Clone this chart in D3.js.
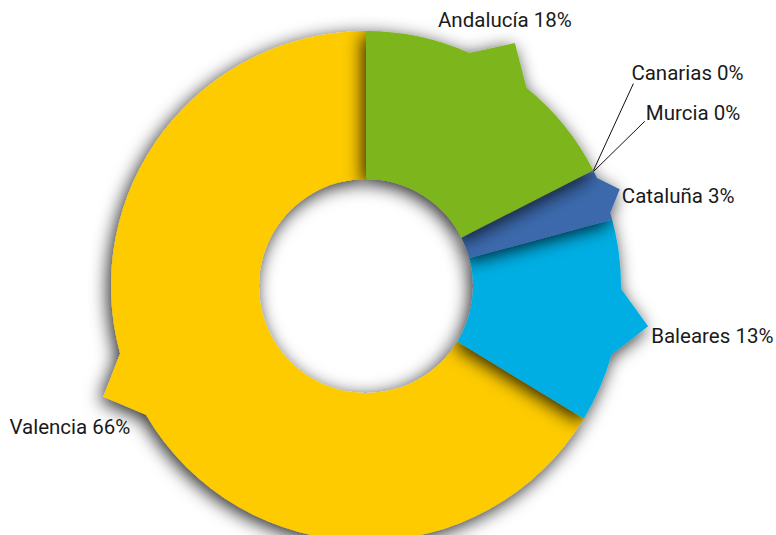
<!DOCTYPE html>
<html>
<head>
<meta charset="utf-8">
<script src="https://cdn.jsdelivr.net/npm/d3@7"></script>
<style>
  html, body { margin: 0; padding: 0; background: #fff; }
  svg { display: block; font-family: Roboto, "Noto Sans", sans-serif; }
</style>
</head>
<body>
<div id="js_chart"></div>
<script>
// shares by region, clockwise from 12 o'clock
const regions = ["Andalucía", "Canarias", "Murcia", "Cataluña", "Baleares", "Valencia"];
const shares = [17.5, 0.05, 0.05, 3.2, 12.9, 66.3];
const colors = ["#7cb51f", "#2a5d9f", "#2a5d9f", "#3a69ac", "#00aee3", "#fecb00"];

const width = 776;
const height = 535;
const cx = 366;
const cy = 286;
const innerR = 107;
const outerR = 255;
const deg = Math.PI / 180;
const tabHalf = 7.5 * deg;
const tabHeight = 30;

// where the callout tab sits, in degrees past the slice middle
const tabShift = { "Valencia": 6.5 };

// label placement relative to the tab tip (or leader end for tiny slices)
const labelStyle = {
  "Andalucía": { anchor: "middle", dx: -10, dy: -16 },
  "Cataluña":  { anchor: "start", dx: 2, dy: 14 },
  "Baleares":  { anchor: "start", dx: 3, dy: 17 },
  "Valencia":  { anchor: "end", dx: 27, dy: 37 },
  "Canarias":  { anchor: "start", leader: [40, -87], dx: -2, dy: -4 },
  "Murcia":    { anchor: "start", leader: [51, -50], dx: 1, dy: -1 }
};

const data = regions.map((name, i) => ({ name, value: shares[i], color: colors[i] }));

const pie = d3.pie()
  .sort(null)
  .value(d => d.value);
const arcs = pie(data);

const polar = (a, r) => [r * Math.sin(a), -r * Math.cos(a)];
const canvasAngle = a => a - Math.PI / 2;

function tabAngle(d) {
  return (d.startAngle + d.endAngle) / 2 + (tabShift[d.data.name] || 0) * deg;
}

function tabSize(d) {
  const half = Math.min(tabHalf, (d.endAngle - d.startAngle) / 2 - 1.6 * deg);
  return half > 0.5 * deg ? { half, h: tabHeight * half / tabHalf } : null;
}

function slicePath(d) {
  const a0 = d.startAngle, a1 = d.endAngle;
  const p = d3.path();
  const tab = tabSize(d);
  p.moveTo(...polar(a0, outerR));
  if (tab) {
    const mid = tabAngle(d);
    p.arc(0, 0, outerR, canvasAngle(a0), canvasAngle(mid - tab.half));
    p.lineTo(...polar(mid, outerR + tab.h));
    p.lineTo(...polar(mid + tab.half, outerR));
    p.arc(0, 0, outerR, canvasAngle(mid + tab.half), canvasAngle(a1));
  } else {
    p.arc(0, 0, outerR, canvasAngle(a0), canvasAngle(a1));
  }
  p.lineTo(...polar(a1, innerR));
  p.arc(0, 0, innerR, canvasAngle(a1), canvasAngle(a0), true);
  p.closePath();
  return p.toString();
}

const svg = d3.select("#js_chart")
  .append("svg")
  .attr("width", width)
  .attr("height", height)
  .attr("viewBox", [0, 0, width, height]);

svg.append("defs")
  .append("filter")
    .attr("id", "shadow")
    .attr("filterUnits", "userSpaceOnUse")
    .attr("x", -420).attr("y", -420)
    .attr("width", 840).attr("height", 840)
  .append("feDropShadow")
    .attr("dx", -3)
    .attr("dy", 4)
    .attr("stdDeviation", 9)
    .attr("flood-color", "#000")
    .attr("flood-opacity", 0.85);

const g = svg.append("g")
  .attr("transform", `translate(${cx},${cy})`);

// draw last slice first so each one shades its clockwise neighbour
g.append("g")
  .selectAll("path")
  .data(arcs.slice().reverse())
  .join("path")
    .attr("d", slicePath)
    .attr("fill", d => d.data.color)
    .attr("filter", "url(#shadow)");

const labels = g.append("g")
  .attr("font-size", 20.5)
  .attr("fill", "#1a1a1a");

arcs.forEach(d => {
  const st = labelStyle[d.data.name];
  const pct = `${d.data.name} ${Math.round(d.data.value)}%`;
  let x, y;
  if (st.leader) {
    const [x0, y0] = polar((d.startAngle + d.endAngle) / 2, outerR);
    x = x0 + st.leader[0];
    y = y0 + st.leader[1];
    labels.append("line")
      .attr("x1", x0).attr("y1", y0)
      .attr("x2", x).attr("y2", y)
      .attr("stroke", "#111")
      .attr("stroke-width", 1);
  } else {
    const tab = tabSize(d);
    [x, y] = polar(tabAngle(d), outerR + (tab ? tab.h : 0));
  }
  labels.append("text")
    .attr("x", x + st.dx)
    .attr("y", y + st.dy)
    .attr("text-anchor", st.anchor)
    .text(pct);
});
</script>
</body>
</html>
